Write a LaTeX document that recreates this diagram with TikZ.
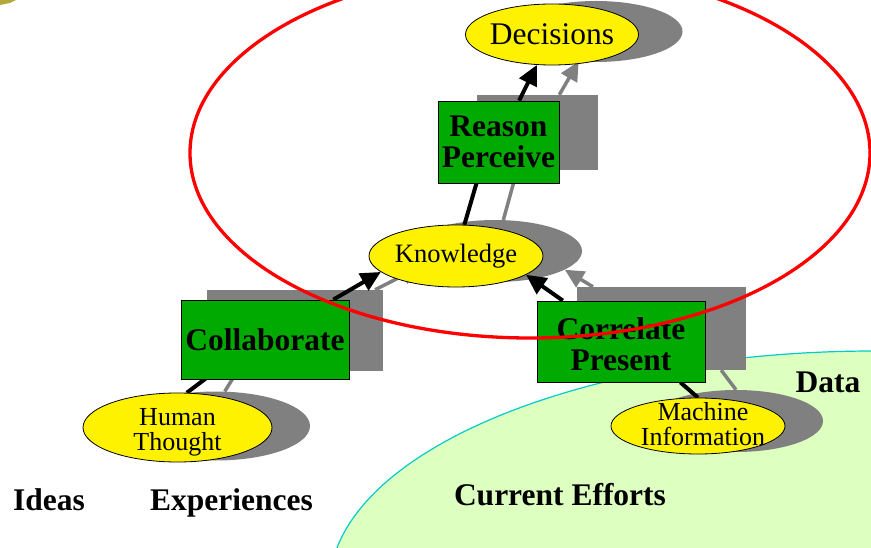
\documentclass[tikz,border=0pt]{standalone}
\usepackage{fontspec}
\setmainfont{Liberation Serif}
\usetikzlibrary{arrows.meta,shapes.geometric,backgrounds}
\definecolor{boxgreen}{RGB}{0,170,0}
\definecolor{shadegray}{RGB}{128,128,128}
\definecolor{fieldgreen}{RGB}{221,255,192}
\definecolor{fieldline}{RGB}{0,204,204}
\definecolor{speck}{RGB}{178,168,60}
\begin{document}
\begin{tikzpicture}[x=1pt,y=-1pt,
	box/.style={draw=black,line width=.8pt,fill=boxgreen,inner sep=0pt,align=center,font=\bfseries\fontsize{31.5}{31}\selectfont},
	boxshade/.style={fill=shadegray,inner sep=0pt},
	bubble/.style={ellipse,draw=black,line width=.8pt,fill=yellow,inner sep=0pt},
	bubbleshade/.style={ellipse,fill=shadegray,inner sep=0pt},
	bubbletext/.style={align=center,font=\fontsize{26}{25}\selectfont},
	tag/.style={anchor=base,font=\bfseries\fontsize{31.5}{31}\selectfont},
	link/.style={line width=4pt},
	flow/.style={link,-{Triangle[length=20pt,width=19pt]}},
	shadelink/.style={line width=3.5pt,shadegray},
	shadeflow/.style={shadelink,-{Triangle[length=19pt,width=18pt]}}]
	\useasboundingbox (0,0) rectangle (871,548);
	\clip (0,0) rectangle (871,548);
	% main nodes
	\node[bubble,minimum width=173pt,minimum height=61pt,
		label={[font=\fontsize{31.5}{31}\selectfont]center:Decisions}] (decisions) at (552,34.5) {};
	\node[box,minimum width=121pt,minimum height=82pt] (reason) at (498.5,142) {Reason\\Perceive};
	\node[bubble,minimum width=174pt,minimum height=62pt,
		label={[bubbletext,font=\fontsize{26.5}{25}\selectfont]center:Knowledge}] (knowledge) at (456,256) {};
	\node[box,minimum width=168pt,minimum height=79pt] (collab) at (265,339.5) {Collaborate};
	\node[box,minimum width=168pt,minimum height=81pt,
		label={[align=center,font=\bfseries\fontsize{31.5}{31}\selectfont,yshift=-3pt]center:{Correlate\\Present}}] (correlate) at (621,341.5) {};
	\node[bubble,minimum width=189pt,minimum height=69pt,
		label={[bubbletext,yshift=-5pt]center:{Human\\Thought}}] (human) at (177.5,427.5) {};
	\node[bubble,minimum width=174pt,minimum height=56pt,
		label={[bubbletext,xshift=5pt,yshift=2pt]center:{Machine\\Information}}] (machine) at (698,426) {};
	\begin{pgfonlayer}{background}
		% field of current efforts
		\fill[fieldgreen] (333,560) .. controls (365,440) and (600,350) .. (880,351) -- (880,560) -- cycle;
		\draw[fieldline,line width=1.2pt] (333,560) .. controls (365,440) and (600,350) .. (880,351);
		\fill[speck] (0,0) -- (16,0) -- (10,3) -- (0,5) -- cycle;
		% shadows
		\node[bubbleshade,minimum width=173pt,minimum height=61pt] (decisionsS) at (596,31.5) {};
		\node[boxshade,minimum width=121pt,minimum height=75pt] (reasonS) at (537.5,132.5) {};
		\node[bubbleshade,minimum width=174pt,minimum height=62pt] (knowledgeS) at (495,251) {};
		\node[boxshade,minimum width=176pt,minimum height=81pt] (collabS) at (295,330.5) {};
		\node[boxshade,minimum width=169pt,minimum height=83pt] (correlateS) at (661.5,328.5) {};
		\node[bubbleshade,minimum width=189pt,minimum height=69pt] (humanS) at (215.5,426) {};
		\node[bubbleshade,minimum width=174pt,minimum height=62pt] (machineS) at (736,421) {};
		\draw[shadeflow] (reasonS) -- (decisionsS);
		\draw[shadelink] (knowledgeS.75) -- ([xshift=-10pt]reasonS.center);
		\draw[shadeflow] (collabS) -- (knowledgeS.192);
		\draw[shadeflow] (correlateS) -- (knowledgeS.345);
		\draw[shadelink] (humanS.75) -- ([xshift=36pt,yshift=9pt]collabS.south west);
		\draw[shadelink] (machineS.north) -- ([xshift=-25pt]correlateS.south east);
		% links
		\draw[flow] (reason) -- (decisions);
		\draw[link] (knowledge.75) -- ([xshift=-10pt]reason.center);
		\draw[flow] (collab) -- (knowledge.192);
		\draw[flow] (correlate) -- (knowledge.345);
		\draw[link] (human.75) -- ([xshift=36pt,yshift=9pt]collab.south west);
		\draw[link] (machine.north) -- ([xshift=-25pt]correlate.south east);
	\end{pgfonlayer}
	\node[tag] (ideas) at (49,510) {Ideas};
	\node[tag] (experiences) at (231.5,510) {Experiences};
	\node[tag] (efforts) at (560,505) {Current Efforts};
	\node[tag] (data) at (828,392) {Data};
	\draw[red,line width=3.3pt] (530,153) ellipse [x radius=340,y radius=185];
\end{tikzpicture}
\end{document}
